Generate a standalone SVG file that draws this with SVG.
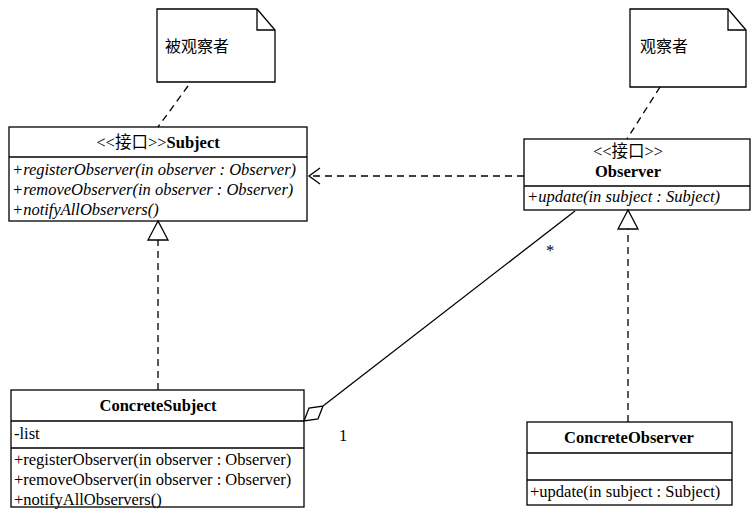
<svg xmlns="http://www.w3.org/2000/svg" width="756" height="523" viewBox="0 0 756 523">
<style>
.b{fill:#fff;stroke:#000;stroke-width:1.3}
.l{stroke:#000;stroke-width:1.3;fill:none}
.d{stroke:#000;stroke-width:1.3;fill:none;stroke-dasharray:7,5}
text{font-family:"Liberation Serif","Noto Sans CJK SC",serif;font-size:16.5px;fill:#000}
.c{text-anchor:middle}
.i{font-style:italic}
.bd{font-weight:bold}
.n{font-family:"Noto Sans CJK SC",sans-serif;font-size:16px}
</style>
<rect width="756" height="523" fill="#fff"/>
<g id="note1"><path class="b" d="M157,9H257L275,30V82H157Z"/><path class="l" d="M257,9V30H275"/><text class="n" x="165" y="52">被观察者</text></g>
<g id="note2"><path class="b" d="M630,9H728L746,30V87H630Z"/><path class="l" d="M728,9V30H746"/><text class="n" x="640" y="52">观察者</text></g>
<g id="subject"><rect class="b" x="9" y="127" width="298" height="94"/><path class="l" d="M9,157H307"/>
<text class="c" x="158" y="148">&lt;&lt;接口&gt;&gt;<tspan class="bd">Subject</tspan></text>
<text class="i" x="12" y="175">+registerObserver(in observer : Observer)</text>
<text class="i" x="12" y="195">+removeObserver(in observer : Observer)</text>
<text class="i" x="12" y="215">+notifyAllObservers()</text></g>
<g id="observer"><rect class="b" x="524" y="139" width="226" height="71"/><path class="l" d="M524,186H750"/>
<text class="c" x="628" y="157">&lt;&lt;接口&gt;&gt;</text>
<text class="c bd" x="628" y="177">Observer</text>
<text class="i" x="527" y="202">+update(in subject : Subject)</text></g>
<g id="concreteSubject"><rect class="b" x="11" y="390" width="293" height="117"/><path class="l" d="M11,421H304M11,448H304"/>
<text class="c bd" x="158" y="411">ConcreteSubject</text>
<text x="14" y="439">-list</text>
<text x="14" y="465">+registerObserver(in observer : Observer)</text>
<text x="14" y="485">+removeObserver(in observer : Observer)</text>
<text x="14" y="505">+notifyAllObservers()</text></g>
<g id="concreteObserver"><rect class="b" x="527" y="422" width="205" height="83"/><path class="l" d="M527,453H732M527,480H732"/>
<text class="c bd" x="629" y="443">ConcreteObserver</text>
<text x="530" y="497">+update(in subject : Subject)</text></g>
<g id="connectors">
<path class="d" d="M188,86L158,127"/>
<path class="d" d="M660,87L627,139"/>
<path class="d" d="M524,176H309"/><path class="l" d="M320,168L309,176L320,184"/>
<path class="d" d="M158,390V240"/><path class="b" d="M158,221L148,240H168Z"/>
<path class="d" d="M628,422V229"/><path class="b" d="M628,210L618,229H638Z"/>
<path class="l" d="M323,406L575,211"/><path class="b" d="M304,421L309,408L323,406L318,419Z"/>
<text x="546" y="256">*</text><text x="339" y="441">1</text>
</g>
</svg>
